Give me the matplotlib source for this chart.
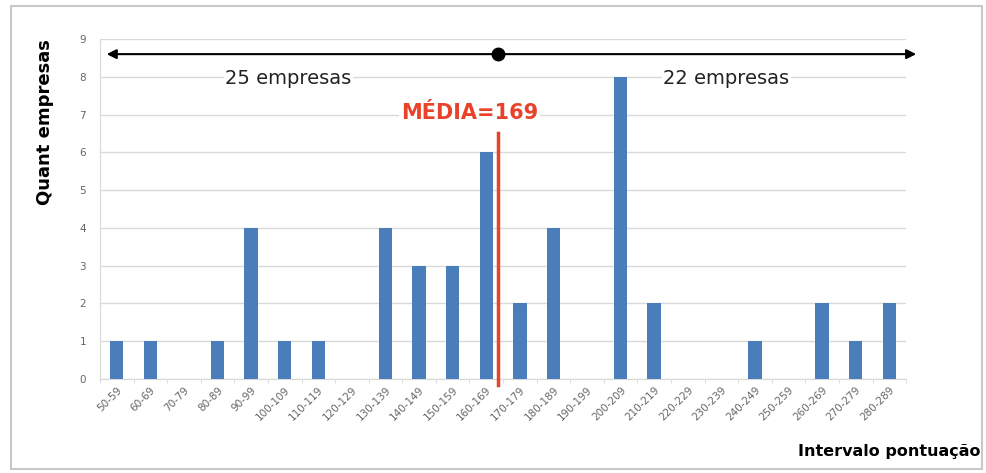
import matplotlib
matplotlib.use("Agg")
import matplotlib.pyplot as plt
from matplotlib.patches import Rectangle
import numpy as np

categories = ["50-59", "60-69", "70-79", "80-89", "90-99", "100-109", "110-119",
              "120-129", "130-139", "140-149", "150-159", "160-169", "170-179",
              "180-189", "190-199", "200-209", "210-219", "220-229", "230-239",
              "240-249", "250-259", "260-269", "270-279", "280-289"]
counts = [1, 1, 0, 1, 4, 1, 1, 0, 4, 3, 3, 6, 2, 4, 0, 8, 2, 0, 0, 1, 0, 2, 1, 2]
mean_value = 169
left_label = "25 empresas"
right_label = "22 empresas"

fig = plt.figure(figsize=(9.86, 4.73), dpi=100)
fig.patches.append(Rectangle((0.011, 0.008), 0.985, 0.98, transform=fig.transFigure,
                             fill=False, edgecolor="#c8c8c8", linewidth=1.5))
ax = fig.add_axes([0.1014, 0.1987, 0.8176, 0.7188])

x = np.arange(len(categories))
ax.bar(x, counts, width=0.4, color="#4a7ebb", zorder=3)

ax.set_xlim(-0.5, len(categories) - 0.5)
ax.set_ylim(0, 9)
ax.set_yticks(range(0, 10))
ax.yaxis.grid(True, color="#d9d9d9", linewidth=1, zorder=0)
ax.set_axisbelow(True)
for s in ["top", "right"]:
    ax.spines[s].set_visible(False)
ax.spines["left"].set_color("#d9d9d9")
ax.spines["bottom"].set_color("#d9d9d9")
ax.tick_params(axis="y", length=0, labelsize=7.5, labelcolor="#666666", pad=10)
ax.set_xticks(x)
ax.set_xticklabels(categories, rotation=45, ha="right", rotation_mode="anchor",
                   fontsize=7.5, color="#666666")
ax.tick_params(axis="x", length=0, pad=4)
ax.set_xticks(np.arange(-0.5, len(categories), 1), minor=True)
ax.tick_params(axis="x", which="minor", length=3, color="#d9d9d9")

# mean line (position between 160-169 and 170-179 interval centers)
mean_pos = 11 + (mean_value - 165) / 10 - 0.05
ax.plot([mean_pos, mean_pos], [-0.15, 6.5], color="#e8432a", linewidth=2.5,
        zorder=4, clip_on=False)
ax.text(mean_pos - 0.85, 7.05, f"MÉDIA={mean_value}", color="#e8432a",
        fontsize=15, fontweight="heavy", ha="center", va="center", zorder=5,
        bbox=dict(facecolor="white", edgecolor="none", pad=1))

# arrows
ay = 8.6
ax.annotate("", xy=(-0.3, ay), xytext=(mean_pos, ay),
            arrowprops=dict(arrowstyle="-|>", color="black", lw=1.5,
                            mutation_scale=14, shrinkA=0, shrinkB=0),
            annotation_clip=False, zorder=6)
ax.annotate("", xy=(23.8, ay), xytext=(mean_pos, ay),
            arrowprops=dict(arrowstyle="-|>", color="black", lw=1.5,
                            mutation_scale=14, shrinkA=0, shrinkB=0),
            annotation_clip=False, zorder=6)
ax.plot([mean_pos], [ay], "o", color="black", markersize=9, zorder=7, clip_on=False)
ax.text(5.1, 7.95, left_label, fontsize=14, ha="center", va="center", color="#222222",
        bbox=dict(facecolor="white", edgecolor="none", pad=1), zorder=5)
ax.text(18.15, 7.95, right_label, fontsize=14, ha="center", va="center", color="#222222",
        bbox=dict(facecolor="white", edgecolor="none", pad=1), zorder=5)

fig.text(0.046, 0.742, "Quant empresas", rotation=90, fontsize=13, fontweight="heavy",
         ha="center", va="center")
fig.text(0.994, 0.045, "Intervalo pontuação", fontsize=11.5, fontweight="heavy",
         ha="right", va="center")

fig.savefig("out.png", dpi=100)
